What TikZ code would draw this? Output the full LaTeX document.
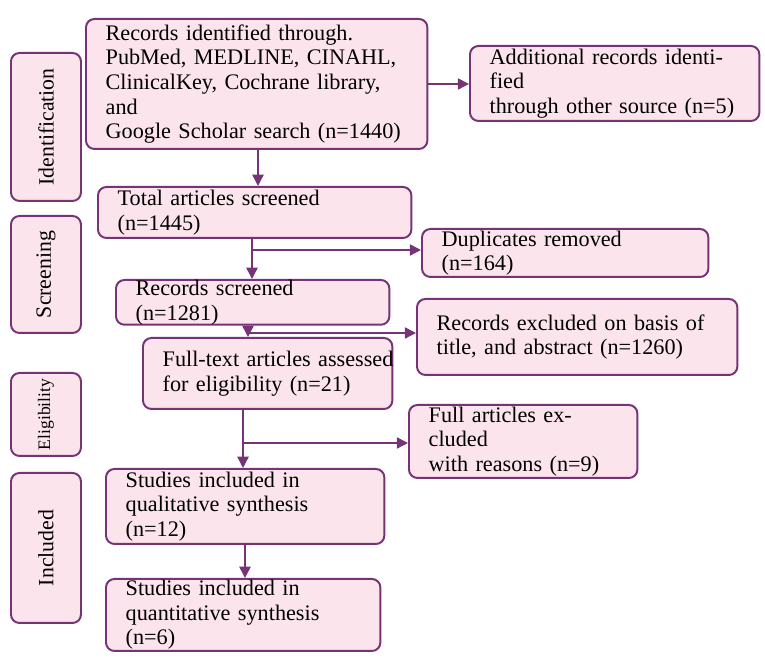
\documentclass[tikz,border=0pt]{standalone}
\usepackage{fontspec}
\setmainfont{Liberation Serif}
\usetikzlibrary{arrows.meta}
\definecolor{boxfill}{RGB}{252,228,236}
\definecolor{boxline}{RGB}{118,52,118}
\tikzset{
  stage/.style={draw=boxline, fill=boxfill, line width=1.4pt, rounded corners=6pt, anchor=north west, inner sep=0pt},
  flowbox/.style={stage, align=left, inner xsep=14pt, font=\fontsize{15.8}{17.5}\selectfont},
  sidebox/.style={stage},
  sidetext/.style={rotate=90, font=\fontsize{15.5}{17}\selectfont},
  arr/.style={draw=boxline, line width=1.1pt, -{Triangle[length=8pt,width=8pt]}}
}
\begin{document}
\begin{tikzpicture}[x=0.025cm, y=-0.025cm]
  \useasboundingbox (0,0) rectangle (765,661);

  % stage labels
  \node[sidebox, minimum width=70*0.025cm, minimum height=148*0.025cm] (ident) at (10,52) {};
  \node[sidetext] at (ident.center) {Identification};
  \node[sidebox, minimum width=70*0.025cm, minimum height=117*0.025cm] (screen) at (10,215) {};
  \node[sidetext] at (screen.center) {Screening};
  \node[sidebox, minimum width=70*0.025cm, minimum height=83*0.025cm] (elig) at (10,372) {};
  \node[sidetext, font=\fontsize{12.5}{14}\selectfont] at (elig.center) {Eligibility};
  \node[sidebox, minimum width=70*0.025cm, minimum height=150*0.025cm] (incl) at (10,472) {};
  \node[sidetext] at (incl.center) {Included};

  % flow boxes
  \node[flowbox, text width=(342-40)*0.025cm, minimum height=130*0.025cm] (found) at (85,18)
    {Records identified through.\\PubMed, MEDLINE, CINAHL,\\ClinicalKey, Cochrane library, and\\Google Scholar search (n=1440)};
  \node[flowbox, text width=(290-40)*0.025cm, minimum height=75*0.025cm] (other) at (469,45)
    {Additional records identified\\through other source (n=5)};
  \node[flowbox, text width=(314-40)*0.025cm, minimum height=51*0.025cm] (total) at (97,186)
    {Total articles screened (n=1445)};
  \node[flowbox, text width=(287-40)*0.025cm, minimum height=48*0.025cm] (dupl) at (421,228)
    {Duplicates removed (n=164)};
  \node[flowbox, text width=(274-40)*0.025cm, minimum height=42*0.025cm] (recs) at (115,279)
    {Records screened (n=1281)};
  \node[flowbox, text width=(321-40)*0.025cm, minimum height=76*0.025cm] (exabs) at (416,298)
    {Records excluded on basis of\\title, and abstract (n=1260)};
  \node[flowbox, text width=(250-40)*0.025cm, minimum height=71*0.025cm] (full) at (142,337)
    {\hbox{Full-text articles assessed}\\for eligibility (n=21)};
  \node[flowbox, text width=(229-40)*0.025cm, minimum height=73*0.025cm] (exfull) at (408,404)
    {Full articles excluded\\with reasons (n=9)};
  \node[flowbox, text width=(279-40)*0.025cm, minimum height=75*0.025cm] (qual) at (105,468)
    {Studies included in\\qualitative synthesis (n=12)};
  \node[flowbox, text width=(275-40)*0.025cm, minimum height=72*0.025cm] (quant) at (105,578)
    {Studies included in\\quantitative synthesis (n=6)};

  % connectors
  \coordinate (v1) at (258,0);
  \coordinate (v2) at (252,250);
  \coordinate (v3) at (248,333);
  \coordinate (v4) at (243,443);
  \coordinate (v5) at (245,0);
  \draw[arr] (found.south -| v1) -- (total.north -| v1);
  \draw[arr] (found.east) -- (other.west |- found.east);
  \draw[arr] (total.south -| v2) -- (recs.north -| v2);
  \draw[arr] (v2) -- (v2 -| dupl.west);
  \draw[arr] (recs.south -| v3) -- (full.north -| v3);
  \draw[arr] (v3) -- (v3 -| exabs.west);
  \draw[arr] (full.south -| v4) -- (qual.north -| v4);
  \draw[arr] (v4) -- (v4 -| exfull.west);
  \draw[arr] (qual.south -| v5) -- (quant.north -| v5);
\end{tikzpicture}
\end{document}
